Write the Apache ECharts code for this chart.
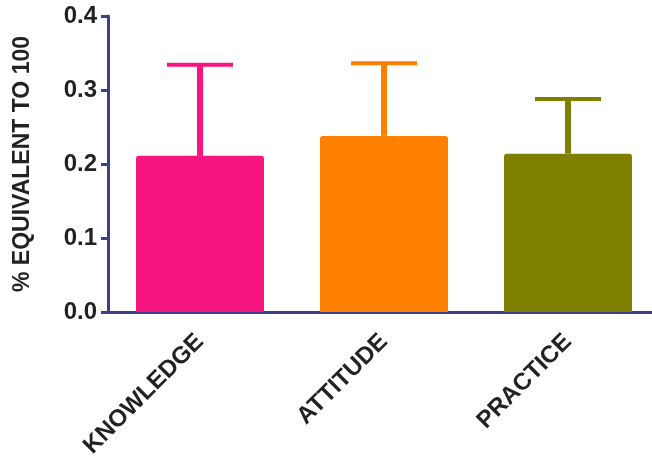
<!DOCTYPE html>
<html>
<head>
<meta charset="utf-8">
<script src="https://cdn.jsdelivr.net/npm/echarts@6/dist/echarts.min.js"></script>
<style>
  html, body { margin: 0; padding: 0; background: #fff; }
  #chart { width: 652px; height: 458px; }
</style>
</head>
<body>
<div id="chart"></div>
<script>
const categories = ['KNOWLEDGE', 'ATTITUDE', 'PRACTICE']
const means = [0.211, 0.238, 0.214]
const upper = [0.334, 0.336, 0.288]
const colors = ['#F7157F', '#FF8000', '#808000']
const yTicks = [0, 0.1, 0.2, 0.3, 0.4]

const axisColor = '#3B3F8C'
const textStyle = {
  fontFamily: 'Liberation Sans, Arial, sans-serif',
  fontWeight: 'bold',
  color: '#222',
}

const chart = echarts.init(document.getElementById('chart'))

const option = {
  animation: false,
  grid: {
    left: 108,
    top: 16,
    width: 552,
    height: 296,
    outerBoundsMode: 'none',
  },
  xAxis: {
    type: 'category',
    data: categories,
    axisLine: { lineStyle: { color: axisColor, width: 3 } },
    axisTick: { alignWithLabel: true, length: 9, lineStyle: { color: axisColor, width: 3 } },
    axisLabel: {
      ...textStyle,
      fontSize: 24,
      rotate: 45,
      margin: 26,
    },
  },
  yAxis: {
    type: 'value',
    min: yTicks[0],
    max: yTicks[yTicks.length - 1],
    interval: 0.1,
    name: '% EQUIVALENT TO 100',
    nameLocation: 'middle',
    nameRotate: 90,
    nameGap: 74,
    nameTextStyle: { ...textStyle, fontSize: 23 },
    splitLine: { show: false },
    axisLine: { show: true, lineStyle: { color: axisColor, width: 3 } },
    axisTick: { show: true, length: 7, lineStyle: { color: axisColor, width: 3 } },
    axisLabel: {
      ...textStyle,
      fontSize: 24,
      margin: 11,
      formatter: (v) => v.toFixed(1),
    },
  },
  series: [
    {
      type: 'bar',
      barWidth: 128,
      data: means.map((v, i) => ({
        value: v,
        itemStyle: { color: colors[i], borderRadius: [3, 3, 0, 0] },
      })),
      z: 2,
    },
    {
      type: 'custom',
      data: means.map((v, i) => [i, v, upper[i]]),
      z: 1,
      renderItem(params, api) {
        const i = api.value(0)
        const base = api.coord([i, api.value(1)])
        const top = api.coord([i, api.value(2)])
        const color = colors[params.dataIndex]
        const capHalf = 33
        return {
          type: 'group',
          children: [
            {
              type: 'line',
              shape: { x1: base[0], y1: base[1], x2: top[0], y2: top[1] },
              style: { stroke: color, lineWidth: 6 },
            },
            {
              type: 'line',
              shape: { x1: top[0] - capHalf, y1: top[1], x2: top[0] + capHalf, y2: top[1] },
              style: { stroke: color, lineWidth: 4 },
            },
          ],
        }
      },
    },
  ],
}

chart.setOption(option)
</script>
</body>
</html>
